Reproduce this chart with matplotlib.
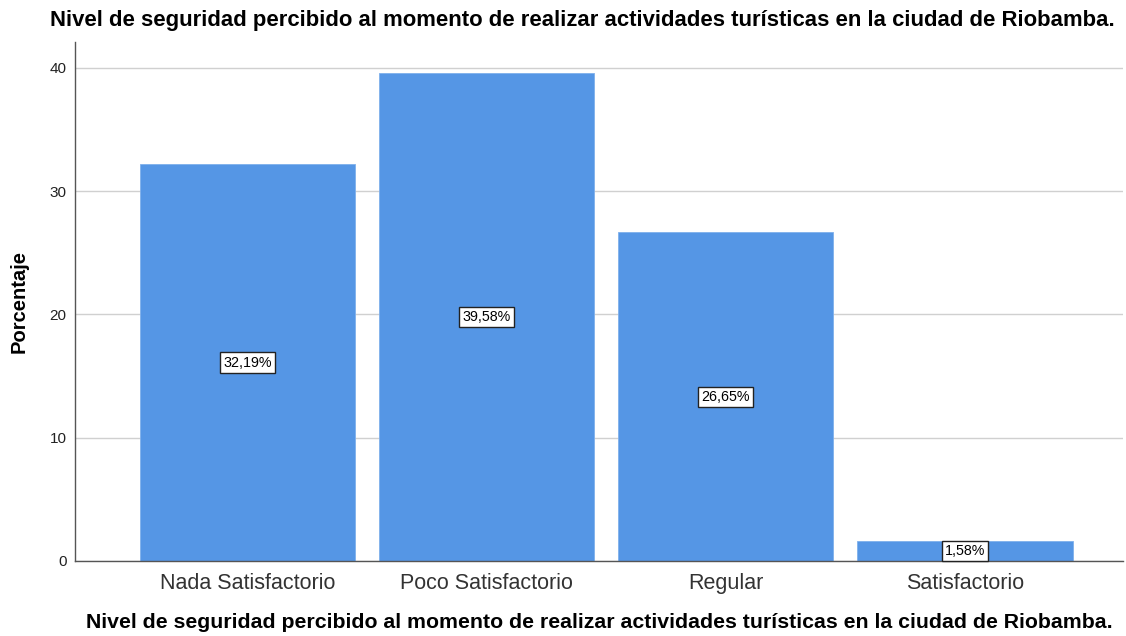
import numpy as np
import matplotlib.pyplot as plt

plt.rcParams["font.family"] = ["Liberation Sans", "DejaVu Sans"]

categorias = ["Nada Satisfactorio", "Poco Satisfactorio", "Regular", "Satisfactorio"]
porcentajes = [32.19, 39.58, 26.65, 1.58]
etiquetas = ["32,19%", "39,58%", "26,65%", "1,58%"]
titulo = "Nivel de seguridad percibido al momento de realizar actividades turísticas en la ciudad de Riobamba."

fig = plt.figure(figsize=(11.26, 6.36), dpi=100)
ax = fig.add_axes([0.0666, 0.118, 0.9307, 0.816])

x = np.arange(len(categorias))
ax.bar(x, porcentajes, width=0.9, color="#5596e5", edgecolor="#7fb0ec", linewidth=0.6, zorder=2)

# etiquetas en la mitad de cada barra
for xi, v, lab in zip(x, porcentajes, etiquetas):
    ax.text(xi, v / 2, lab, ha="center", va="center", fontsize=10.3, zorder=3,
            bbox=dict(boxstyle="square,pad=0.22", facecolor="white", edgecolor="#222222", linewidth=1))

ax.set_xlim(-0.72, 3.66)
ax.set_ylim(0, 42.1)
ax.set_yticks([0, 10, 20, 30, 40])
ax.yaxis.grid(True, color="#d0d0d0", linewidth=1, zorder=0)
ax.set_axisbelow(True)

ax.set_xticks(x)
ax.set_xticklabels(categorias, fontsize=15.5, color="#333333")
ax.tick_params(axis="x", length=0, pad=9)
ax.tick_params(axis="y", length=0, labelsize=11, pad=6, labelcolor="#222222")

for s in ["top", "right"]:
    ax.spines[s].set_visible(False)
for s in ["left", "bottom"]:
    ax.spines[s].set_color("#555555")
    ax.spines[s].set_linewidth(1)

ax.set_ylabel("Porcentaje", fontsize=14.5, fontweight="bold")
ax.yaxis.set_label_coords(-0.044, 0.50)
ax.set_xlabel(titulo, fontsize=15.3, fontweight="bold", labelpad=13)
fig.text(0.517, 0.967, titulo, ha="center", va="center", fontsize=15.9, fontweight="bold")

fig.savefig("out.png", dpi=100)
